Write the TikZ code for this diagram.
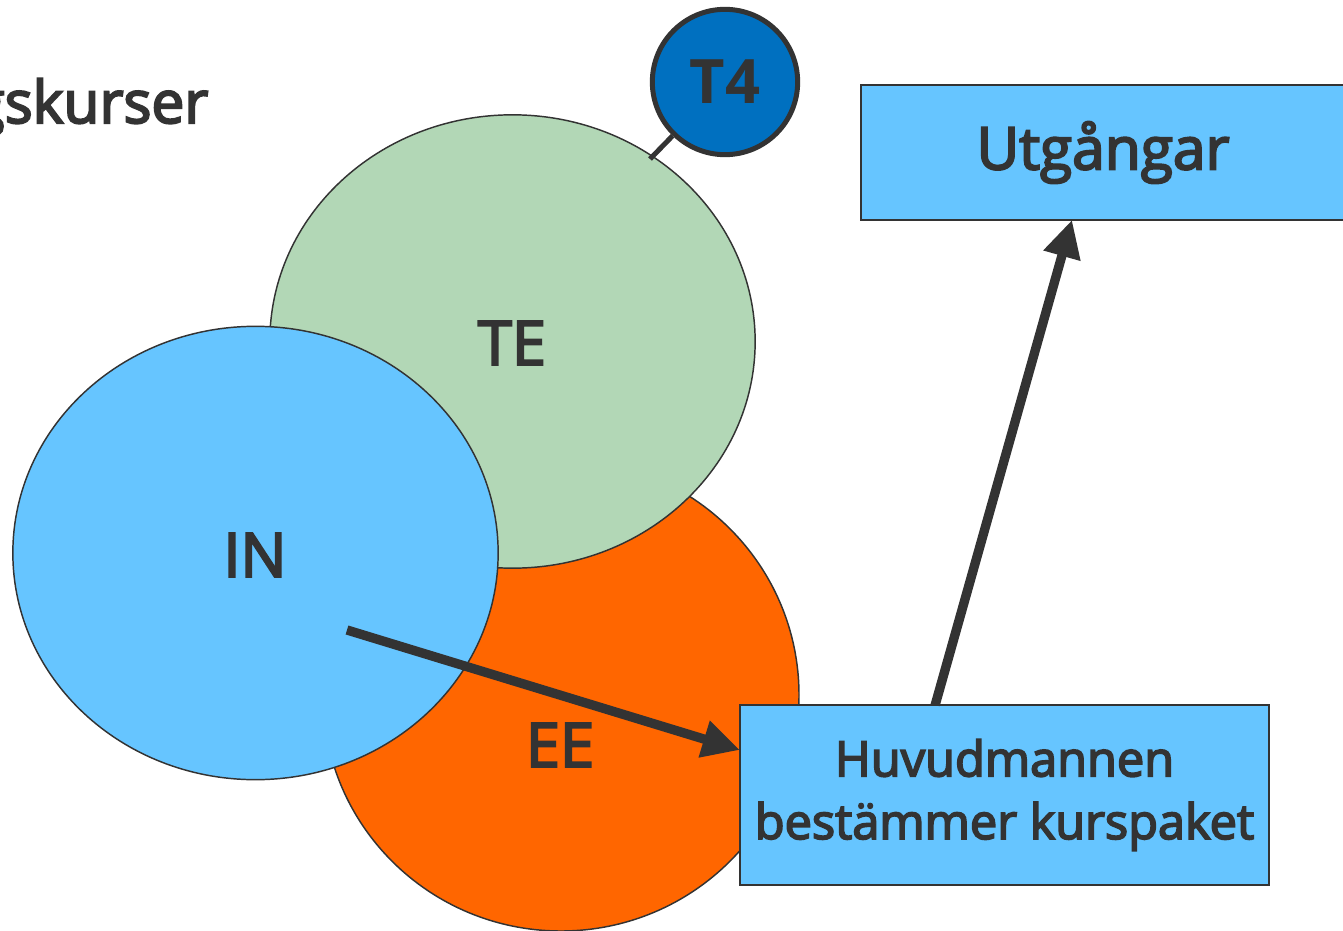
\documentclass[tikz,border=0pt]{standalone}
\usepackage{fontspec}
\setmainfont{Open Sans}
\newfontfamily\semi{Open Sans}[FakeBold=3.5]
\usetikzlibrary{shapes.geometric,arrows.meta,calc}
\definecolor{txt}{HTML}{333333}
\definecolor{lblue}{HTML}{66C5FF}
\definecolor{lgreen}{HTML}{B2D7B6}
\definecolor{orng}{HTML}{FF6600}
\definecolor{dblue}{HTML}{0070C0}
\tikzset{
  blob/.style={ellipse, draw=txt, line width=1.1pt, inner sep=0pt, outer sep=0pt, text=txt},
  lbl/.style={text=txt, font=\semi\fontsize{46}{55}\selectfont},
  boxnode/.style={rectangle, draw=txt, line width=1.5pt, fill=lblue, inner sep=0pt, outer sep=0pt, text=txt, align=center},
  bigarrow/.style={draw=txt, line width=7pt, -{Triangle[length=28pt,width=27pt]}},
}
\begin{document}
\begin{tikzpicture}[x=0.75pt,y=-0.75pt]
\useasboundingbox (0,0) rectangle (1343,931);
\node[anchor=base east, text=txt, font=\semi\fontsize{44}{52}\selectfont] (hdr) at (213,123) {gskurser};
\node[blob, fill=orng, minimum width=357pt, minimum height=354pt] (EE) at (561,695) {};
\node[blob, fill=lgreen, minimum width=364pt, minimum height=340pt] (TE) at (512.5,341.5) {};
\node[blob, fill=lblue, minimum width=364pt, minimum height=340pt] (IN) at (255.5,553) {};
\node[lbl] (TEl) at (512,343) {TE};
\node[lbl] (INl) at (255,555) {IN};
\node[lbl] (EEl) at (560,745) {EE};
\node[circle, draw=txt, line width=3.75pt, fill=dblue, minimum size=109pt, inner sep=0pt, text=txt, font=\bfseries\fontsize{46}{55}\selectfont] (T4) at (725,82) {T4};
\coordinate (tept) at (650,159);
\draw[txt, line width=3.75pt] (T4) -- (tept);
\node[boxnode, minimum width=363pt, minimum height=101pt, font=\semi\fontsize{44}{53}\selectfont] (utg) at (1103,152.5) {\raisebox{-3pt}{Utgångar}};
\node[boxnode, minimum width=397pt, minimum height=135pt, font=\semi\fontsize{36.5}{47}\selectfont] (huv) at (1004.5,795) {Huvudmannen\\bestämmer kurspaket};
\coordinate (a1) at (347,630);
\draw[bigarrow] (a1) -- ($(huv.north west)!0.25!(huv.south west)$);
\draw[bigarrow] ($(huv.north west)!0.369!(huv.north east)$) -- ($(utg.south west)!0.436!(utg.south east)$);
\end{tikzpicture}
\end{document}
